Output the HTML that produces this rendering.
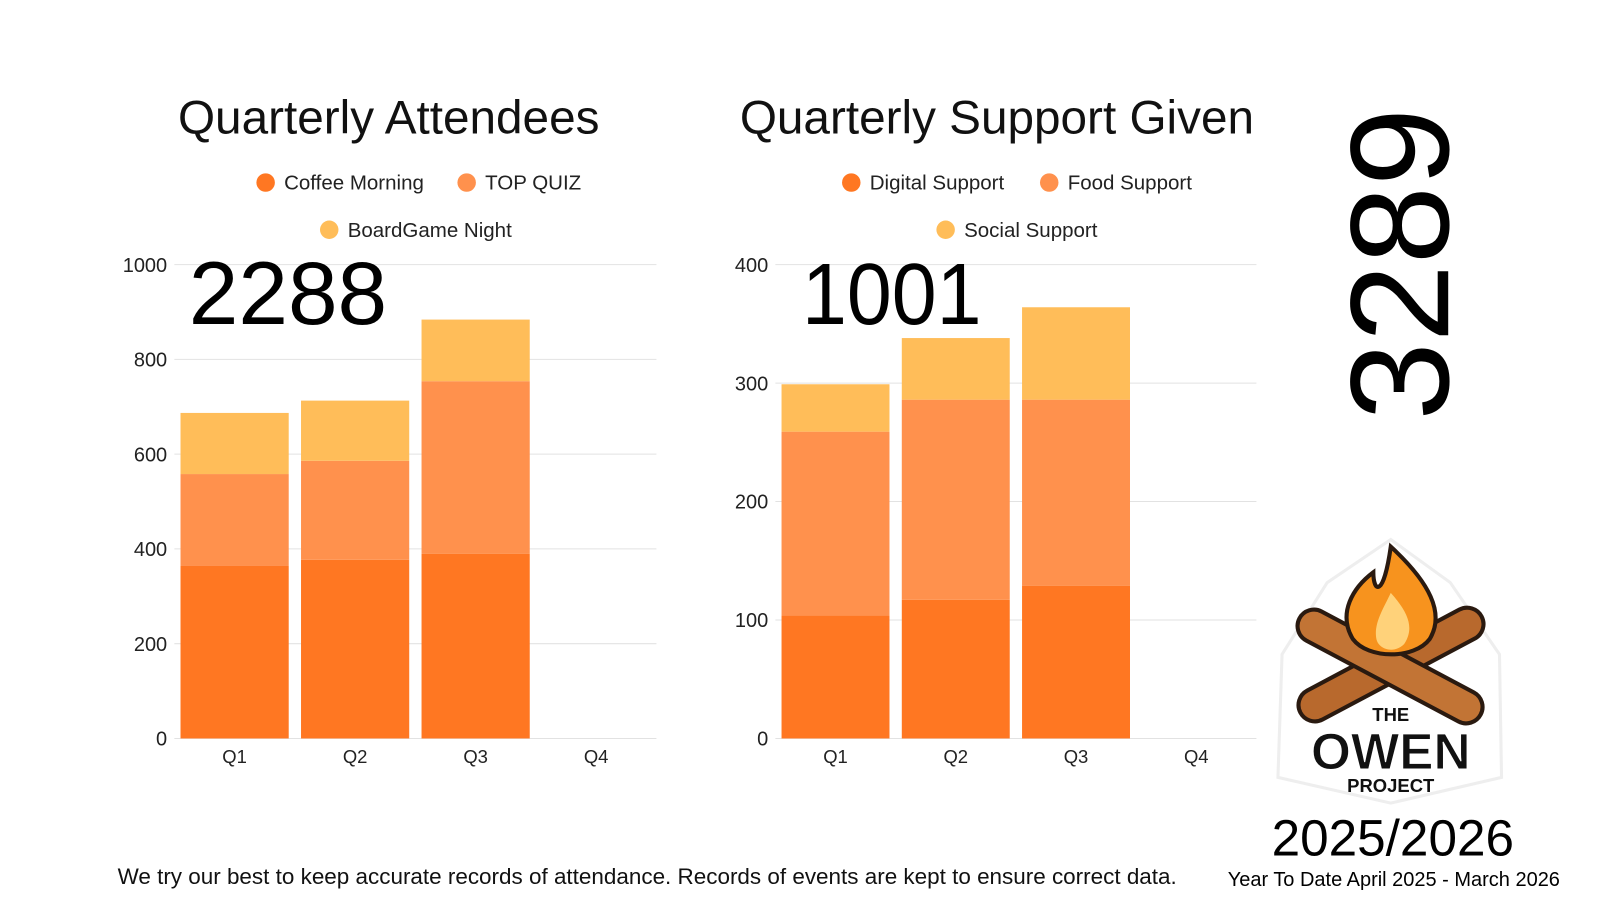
<!DOCTYPE html>
<html><head><meta charset="utf-8"><style>
body{margin:0;background:#fff;font-family:"Liberation Sans",sans-serif}
svg text{font-family:"Liberation Sans",sans-serif}
</style></head><body>
<svg id="s" width="1600" height="896" viewBox="0 0 1600 896">
<g transform="scale(1.02564)">
<text x="379" y="130" font-size="46.5" text-anchor="middle" fill="#111">Quarterly Attendees</text>
<text x="972" y="130" font-size="46.5" text-anchor="middle" fill="#111">Quarterly Support Given</text>
<g id="c1"></g><g id="c2"></g>
<text x="184" y="316" font-size="87" fill="#000">2288</text>
<text x="782" y="316" font-size="85" textLength="175" lengthAdjust="spacingAndGlyphs" fill="#000">1001</text>
<text transform="translate(1412,410) rotate(-90)" font-size="137" fill="#000">3289</text>
<g transform="translate(-6,-2)">
 <path d="M1362 528 L1420 570 L1468 640 L1470 760 L1362 785 L1252 760 L1256 640 L1300 570 Z" fill="#fff" stroke="#eee" stroke-width="3"/>
 <g transform="rotate(-28 1360 650)"><rect x="1262" y="635" width="200" height="32" rx="16" fill="#b8692d" stroke="#2a1a10" stroke-width="4"/></g>
 <g transform="rotate(28 1360 650)"><rect x="1262" y="635" width="200" height="32" rx="16" fill="#c27435" stroke="#2a1a10" stroke-width="4"/></g>
 <path d="M1362 535 C1400 570 1415 600 1400 625 C1385 645 1340 645 1325 625 C1310 600 1325 575 1345 560 C1345 580 1355 585 1362 535 Z" fill="#f7931e" stroke="#2a1a10" stroke-width="4"/>
 <path d="M1362 580 C1380 600 1385 615 1375 630 C1365 640 1350 635 1348 625 C1345 610 1355 595 1362 580 Z" fill="#ffd27a"/>
 <text x="1362" y="705" font-size="18" font-weight="bold" text-anchor="middle" fill="#111">THE</text>
 <text x="1362" y="752" font-size="50" font-weight="bold" text-anchor="middle" fill="#111" stroke="#fff" stroke-width="1">OWEN</text>
 <text x="1362" y="774" font-size="18" font-weight="bold" text-anchor="middle" fill="#111">PROJECT</text>
</g>
<text x="1358" y="834" font-size="50" text-anchor="middle" fill="#000">2025/2026</text>
<text x="1359" y="864" font-size="19.5" text-anchor="middle" fill="#000">Year To Date April 2025 - March 2026</text>
<text x="631" y="862" font-size="21.9" text-anchor="middle" fill="#111">We try our best to keep accurate records of attendance. Records of events are kept to ensure correct data.</text>
</g>
</svg>
<script>
const categories=["Q1","Q2","Q3","Q4"];
const coffee=[364,377,390,0];
const quiz=[194,209,364,0];
const board=[129,127,130,0];
const digital=[104,117,129,0];
const food=[155,169,157,0];
const social=[40,52,78,0];
const ticks1=[0,200,400,600,800,1000];
const ticks2=[0,100,200,300,400];
const colors=["#FF7722","#FF914D","#FFBD59"];
const NS="http://www.w3.org/2000/svg";
function mk(p,t,a){const e=document.createElementNS(NS,t);for(const k in a)e.setAttribute(k,a[k]);p.appendChild(e);return e;}
function chart(g,x0,x1,max,ticks,series,names,prefix,leg){
 const y0=720,y1=258;const ys=v=>y0-(v/max)*(y0-y1);
 const bw=(x1-x0)/categories.length;
 ticks.forEach(t=>{const l=mk(g,"line",{x1:x0,x2:x1,y1:ys(t),y2:ys(t),stroke:"#e2e2e2","stroke-width":1});
  
  
  const tx=mk(g,"text",{x:x0-7,y:ys(t)+7,"font-size":19.5,"text-anchor":"end",fill:"#222"});tx.textContent=t;
  
  });
 categories.forEach((c,i)=>{let acc=0;const bx=x0+i*bw+6,w=bw-12;
  series.forEach((s,j)=>{const v=s[i];if(v<=0)return;
   const r=mk(g,"rect",{x:bx,y:ys(acc+v),width:w,height:ys(acc)-ys(acc+v),fill:colors[j]});
   
   acc+=v;});
  const tx=mk(g,"text",{x:x0+i*bw+bw/2,y:744,"font-size":18,"text-anchor":"middle",fill:"#222"});tx.textContent=c;
  
  });
 leg.forEach((L,j)=>{const c=mk(g,"circle",{cx:L[0],cy:L[1],r:9,fill:colors[j]});
  
  
  const t=mk(g,"text",{x:L[0]+18,y:L[1]+7,"font-size":20,fill:"#222"});t.textContent=names[j];
  
  });
}
chart(document.getElementById("c1"),170,640,1000,ticks1,[coffee,quiz,board],["Coffee Morning","TOP QUIZ","BoardGame Night"],"attendees",[[259,178],[455,178],[321,224]]);
chart(document.getElementById("c2"),756,1225,400,ticks2,[digital,food,social],["Digital Support","Food Support","Social Support"],"support",[[830,178],[1023,178],[922,224]]);
</script>
</body></html>
